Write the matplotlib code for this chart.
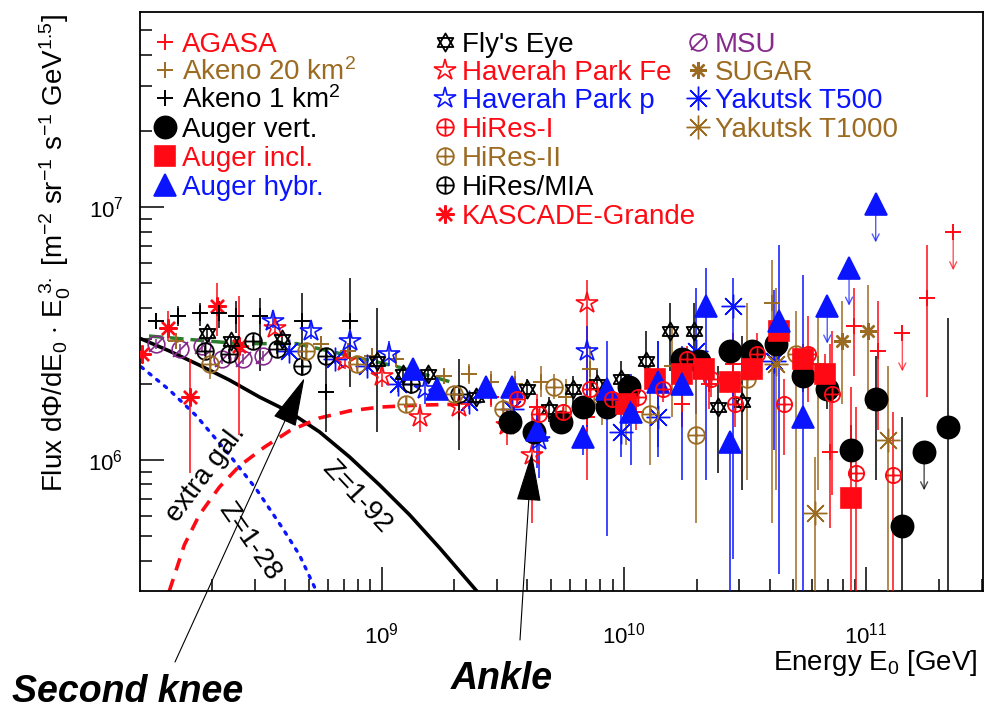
import numpy as np
import matplotlib
matplotlib.use("Agg")
import matplotlib.pyplot as plt
from matplotlib.path import Path
from matplotlib.lines import Line2D

plt.rcParams['font.family'] = ['Liberation Sans', 'DejaVu Sans']
plt.rcParams['mathtext.fontset'] = 'custom'
plt.rcParams['mathtext.rm'] = 'Liberation Sans'
plt.rcParams['mathtext.it'] = 'Liberation Sans:italic'
plt.rcParams['mathtext.bf'] = 'Liberation Sans:bold'

RED = '#ff0a14'
BROWN = '#9c6b22'
BLUE = '#0a14ff'
PURPLE = '#862a8c'
GREEN = '#2b7d2b'

# ---- data: log10(E/GeV), log10(flux*E^3) and log errors (up / down) ----
agasa_logE = [9.45, 9.64, 9.85, 10.05, 10.24, 10.35, 10.45, 10.85, 10.95, 11.05, 11.15, 11.25, 11.36]
agasa_logF = [6.25, 6.21, 6.17, 6.19, 6.22, 6.30, 6.38, 6.03, 6.53, 6.43, 6.50, 6.64, 6.90]
agasa_up = [0.04, 0.05, 0.06, 0.06, 0.08, 0.09, 0.12, 0.43, 0.15, 0.20, 0, 0.21, 0]
agasa_dn = [0.04, 0.05, 0.06, 0.07, 0.09, 0.10, 0.14, 0.30, 0.20, 0.31, 0, 0.39, 0]
agasa_lim = [10, 12]

akeno1_logE = [8.07, 8.16, 8.25, 8.33, 8.40, 8.50, 8.67, 8.77, 8.87]
akeno1_logF = [6.55, 6.57, 6.58, 6.58, 6.57, 6.57, 6.55, 6.27, 6.55]
akeno1_up = [0.03, 0.04, 0.04, 0.05, 0.06, 0.07, 0.11, 0.14, 0.17]
akeno1_dn = [0.03, 0.04, 0.05, 0.06, 0.07, 0.22, 0.22, 0.16, 0.26]

akeno20_logE = [8.15, 8.75, 8.86, 8.96, 9.06, 9.26, 9.36, 9.45, 9.55, 9.66, 9.76, 9.86, 10.01, 10.20, 10.61, 10.80]
akeno20_logF = [6.47, 6.46, 6.43, 6.41, 6.40, 6.33, 6.34, 6.31, 6.30, 6.31, 6.25, 6.36, 6.22, 6.37, 6.62, 6.38]
akeno20_up = [0.03, 0.03, 0.03, 0.03, 0.03, 0.03, 0.04, 0.04, 0.05, 0.06, 0.07, 0.09, 0.12, 0.15, 0.17, 0.20]
akeno20_dn = [0.03, 0.03, 0.03, 0.03, 0.03, 0.03, 0.04, 0.04, 0.05, 0.06, 0.08, 0.12, 0.16, 0.20, 0.87, 0.50]

augv_logE = [9.53, 9.63, 9.74, 9.83, 9.93, 10.02, 10.24, 10.31, 10.44, 10.53, 10.63, 10.74, 10.84, 10.94, 11.04, 11.15, 11.24, 11.34]
augv_logF = [6.15, 6.11, 6.15, 6.21, 6.21, 6.29, 6.40, 6.39, 6.43, 6.43, 6.46, 6.33, 6.28, 6.04, 6.24, 5.74, 6.03, 6.13]
augv_up = [0.02, 0.02, 0.02, 0.02, 0.02, 0.02, 0.03, 0.03, 0.03, 0.04, 0.05, 0.06, 0.08, 0.10, 0.17, 0.43, 0, 0.43]
augv_dn = [0.02, 0.02, 0.02, 0.02, 0.02, 0.02, 0.03, 0.03, 0.03, 0.04, 0.05, 0.06, 0.08, 0.12, 0.32, 1.0, 0, 1.0]
augv_lim = [16]

augi_logE = [10.01, 10.13, 10.24, 10.33, 10.44, 10.53, 10.64, 10.74, 10.83, 10.94]
augi_logF = [6.22, 6.32, 6.34, 6.36, 6.31, 6.36, 6.51, 6.40, 6.34, 5.85]
augi_up = [0.02, 0.02, 0.03, 0.03, 0.03, 0.04, 0.05, 0.06, 0.08, 0.44]
augi_dn = [0.02, 0.02, 0.03, 0.03, 0.04, 0.04, 0.06, 0.07, 0.10, 1.0]

augh_logE = [9.13, 9.23, 9.43, 9.54, 9.64, 9.83, 9.93, 10.03, 10.14, 10.24, 10.34, 10.44, 10.64, 10.74, 10.84, 10.93, 11.04]
augh_logF = [6.36, 6.28, 6.29, 6.29, 6.12, 6.09, 6.28, 6.19, 6.31, 6.30, 6.61, 6.07, 6.55, 6.17, 6.61, 6.76, 7.01]
augh_up = [0.02, 0.02, 0.03, 0.03, 0.10, 0.05, 0.19, 0.15, 0.16, 0.15, 0.15, 0.04, 0.30, 0.56, 0, 0, 0]
augh_dn = [0.02, 0.02, 0.03, 0.03, 0.15, 0.07, 0.58, 0.21, 0.30, 0.38, 0.69, 1.0, 1.0, 1.0, 0, 0, 0]
augh_lim = [14, 15, 16]

fly_logE = [8.28, 8.38, 8.59, 8.98, 9.09, 9.19, 9.39, 9.60, 9.69, 9.79, 9.89, 9.99, 10.09, 10.19, 10.29, 10.39, 10.49]
fly_logF = [6.50, 6.47, 6.48, 6.39, 6.34, 6.34, 6.25, 6.28, 6.20, 6.28, 6.30, 6.32, 6.39, 6.51, 6.51, 6.21, 6.23]
fly_up = [0.02, 0.02, 0.02, 0.21, 0.03, 0.03, 0.03, 0.04, 0.05, 0.05, 0.06, 0.07, 0.12, 0.11, 0.11, 0.16, 0.26]
fly_dn = [0.02, 0.02, 0.02, 0.28, 0.03, 0.03, 0.03, 0.04, 0.05, 0.06, 0.07, 0.08, 0.08, 0.16, 0.19, 0.26, 0.35]

hpfe_logE = [8.56, 8.85, 9.00, 9.16, 9.32, 9.52, 9.62, 9.85]
hpfe_logF = [6.52, 6.39, 6.33, 6.17, 6.21, 6.14, 6.02, 6.62]
hpfe_up = [0.03, 0.03, 0.04, 0.05, 0.04, 0.06, 0.15, 0.09]
hpfe_dn = [0.03, 0.03, 0.04, 0.06, 0.05, 0.08, 0.27, 0.70]

hpp_logE = [8.55, 8.71, 8.87, 9.03, 9.18, 9.65, 9.85]
hpp_logF = [6.55, 6.51, 6.47, 6.42, 6.28, 6.08, 6.43]
hpp_up = [0.03, 0.03, 0.04, 0.05, 0.06, 0.10, 0.10]
hpp_dn = [0.03, 0.03, 0.04, 0.05, 0.06, 0.15, 0.30]

hr1_logE = [9.56, 9.65, 9.75, 9.86, 9.95, 10.06, 10.16, 10.26, 10.36, 10.46, 10.55, 10.66, 10.76, 10.86, 10.96, 11.11]
hr1_logF = [6.24, 6.18, 6.19, 6.28, 6.24, 6.25, 6.28, 6.40, 6.32, 6.22, 6.42, 6.22, 6.42, 6.26, 5.95, 5.94]
hr1_up = [0.02, 0.02, 0.02, 0.03, 0.03, 0.03, 0.04, 0.05, 0.06, 0.07, 0.08, 0.10, 0.15, 0.25, 0.26, 0.25]
hr1_dn = [0.02, 0.02, 0.02, 0.03, 0.03, 0.04, 0.05, 0.06, 0.07, 0.09, 0.10, 0.20, 0.19, 0.40, 1.0, 1.0]

hr2_logE = [8.29, 8.69, 8.90, 9.10, 9.30, 9.50, 9.71, 9.91, 10.11, 10.30, 10.51, 10.71]
hr2_logF = [6.38, 6.43, 6.38, 6.22, 6.26, 6.20, 6.29, 6.24, 6.18, 6.10, 6.32, 6.42]
hr2_up = [0.06, 0.03, 0.03, 0.03, 0.03, 0.04, 0.05, 0.08, 0.20, 0.27, 0.30, 0.17]
hr2_dn = [0.06, 0.03, 0.03, 0.03, 0.03, 0.04, 0.05, 0.10, 0.20, 0.35, 0.40, 1.0]

mia_logE = [8.27, 8.37, 8.47, 8.57, 8.67, 8.77, 9.12, 9.32]
mia_logF = [6.43, 6.42, 6.47, 6.44, 6.37, 6.41, 6.30, 6.26]
mia_up = [0.02, 0.02, 0.02, 0.02, 0.03, 0.03, 0.04, 0.14]
mia_dn = [0.02, 0.02, 0.02, 0.02, 0.03, 0.03, 0.04, 0.22]

kg_logE = [8.01, 8.12, 8.21, 8.32, 8.41]
kg_logF = [6.42, 6.52, 6.25, 6.61, 6.45]
kg_up = [0.03, 0.07, 0.15, 0.09, 0.20]
kg_dn = [0.03, 0.05, 0.30, 0.12, 0.35]

msu_logE = [8.07, 8.17, 8.26, 8.34, 8.43, 8.51]
msu_logF = [6.46, 6.44, 6.45, 6.40, 6.40, 6.41]
msu_up = [0.02, 0.02, 0.02, 0.02, 0.02, 0.02]
msu_dn = [0.02, 0.02, 0.02, 0.02, 0.02, 0.02]

sugar_logE = [10.90, 11.01]
sugar_logF = [6.47, 6.51]
sugar_up = [0.16, 0.18]
sugar_dn = [0.25, 0.31]

t500_logE = [8.62, 8.81, 8.94, 9.07, 9.36, 9.54, 9.99, 10.14, 10.30, 10.45, 10.62]
t500_logF = [6.43, 6.40, 6.37, 6.30, 6.23, 6.20, 6.11, 6.17, 6.43, 6.61, 6.39]
t500_up = [0.02, 0.02, 0.02, 0.03, 0.03, 0.04, 0.08, 0.30, 0.25, 0.11, 0.28]
t500_dn = [0.02, 0.02, 0.02, 0.03, 0.03, 0.04, 0.10, 0.12, 0.25, 1.0, 0.35]

t1000_logE = [10.63, 10.79, 11.09]
t1000_logF = [6.38, 5.79, 6.08]
t1000_up = [0.30, 0.22, 0.29]
t1000_dn = [0.50, 1.0, 1.0]

# model curves
z92_logE = [8.000, 8.124, 8.248, 8.372, 8.496, 8.620, 8.744, 8.868, 8.992, 9.116, 9.240, 9.393]
z92_logF = [6.482, 6.431, 6.375, 6.316, 6.249, 6.190, 6.111, 6.012, 5.901, 5.783, 5.652, 5.482]
egal_logE = [8.124, 8.186, 8.248, 8.331, 8.413, 8.517, 8.620, 8.744, 8.868, 8.992, 9.157, 9.364]
egal_logF = [5.482, 5.664, 5.783, 5.893, 5.976, 6.051, 6.115, 6.166, 6.194, 6.209, 6.217, 6.221]
z28_logE = [8.008, 8.124, 8.236, 8.372, 8.483, 8.591, 8.661, 8.731]
z28_logF = [6.368, 6.277, 6.174, 6.020, 5.885, 5.731, 5.625, 5.482]
fit_logE = [8.04, 8.41, 8.65, 9.06, 9.28]
fit_logF = [6.49, 6.46, 6.46, 6.37, 6.31]

# ---- custom ROOT-like markers ----
a1 = np.deg2rad([90, 210, 330, 90])
a2 = np.deg2rad([270, 30, 150, 270])
hexagram = Path.make_compound_path(
    Path(np.column_stack([np.cos(a1), np.sin(a1)]), closed=True),
    Path(np.column_stack([np.cos(a2), np.sin(a2)]), closed=True))
oplus = Path.make_compound_path(Path.unit_circle(),
                                Path([[-1, 0], [1, 0]]), Path([[0, -1], [0, 1]]))
oslash = Path.make_compound_path(Path.unit_circle(), Path([[-0.9, -0.9], [0.9, 0.9]]))
aster = (8, 2, 0)

W, H = 986, 714
fig = plt.figure(figsize=(W / 100, H / 100), dpi=100)
ax = fig.add_axes([140 / W, 1 - 591 / H, 843 / W, 579 / H])
ax.set_xscale('log')
ax.set_yscale('log')
ax.set_xlim(10 ** 8.003, 10 ** 11.483)
ax.set_ylim(10 ** 5.482, 10 ** 7.771)

# curves
ax.plot(10 ** np.array(fit_logE), 10 ** np.array(fit_logF), color=GREEN, lw=2.5, ls=(0, (4, 2)), zorder=2)
ax.plot(10 ** np.array(z92_logE), 10 ** np.array(z92_logF), color='black', lw=2.6, zorder=2)
ax.plot(10 ** np.array(egal_logE), 10 ** np.array(egal_logF), color=RED, lw=2.6, ls=(0, (3.5, 2.5)), zorder=2)
ax.plot(10 ** np.array(z28_logE), 10 ** np.array(z28_logF), color=BLUE, lw=2.4, ls=(0, (0.8, 2.2)),
        dash_capstyle='round', zorder=2)


def draw(logE, logF, up, dn, color, marker, ms, mew=1.2, filled=False, lims=()):
    E = 10 ** np.array(logE)
    F = 10 ** np.array(logF)
    up = np.array(up)
    dn = np.array(dn)
    ax.errorbar(E, F, yerr=[F - F * 10 ** -dn, F * 10 ** up - F], fmt='none',
                ecolor=color, elinewidth=1.1, zorder=3)
    ax.plot(E, F, ls='none', marker=marker, ms=ms, mec=color,
            mfc=color if filled else 'none', mew=mew, zorder=4)
    for i in lims:
        ax.annotate('', xy=(E[i], F[i] * 10 ** -0.15), xytext=(E[i], F[i]),
                    arrowprops=dict(arrowstyle='->,head_length=0.5,head_width=0.25',
                                    color=color, lw=1.0, alpha=0.7, shrinkA=0, shrinkB=0),
                    zorder=3)


draw(msu_logE, msu_logF, msu_up, msu_dn, PURPLE, oslash, 12)
draw(kg_logE, kg_logF, kg_up, kg_dn, RED, aster, 13, mew=1.7)
draw(akeno1_logE, akeno1_logF, akeno1_up, akeno1_dn, 'black', '+', 11, mew=1.4)
draw(akeno20_logE, akeno20_logF, akeno20_up, akeno20_dn, BROWN, '+', 11, mew=1.4)
draw(agasa_logE, agasa_logF, agasa_up, agasa_dn, RED, '+', 11, mew=1.4, lims=agasa_lim)
draw(t500_logE, t500_logF, t500_up, t500_dn, BLUE, aster, 17, mew=1.0)
draw(t1000_logE, t1000_logF, t1000_up, t1000_dn, BROWN, aster, 17, mew=1.0)
draw(sugar_logE, sugar_logF, sugar_up, sugar_dn, BROWN, aster, 12, mew=1.7)
draw(hpfe_logE, hpfe_logF, hpfe_up, hpfe_dn, RED, '*', 16, mew=1.2)
draw(hpp_logE, hpp_logF, hpp_up, hpp_dn, BLUE, '*', 16, mew=1.2)
draw(fly_logE, fly_logF, fly_up, fly_dn, 'black', hexagram, 13, mew=1.3)
draw(mia_logE, mia_logF, mia_up, mia_dn, 'black', oplus, 12, mew=1.3)
draw(hr2_logE, hr2_logF, hr2_up, hr2_dn, BROWN, oplus, 12, mew=1.3)
draw(augv_logE, augv_logF, augv_up, augv_dn, 'black', 'o', 16, filled=True, lims=augv_lim)
draw(augi_logE, augi_logF, augi_up, augi_dn, RED, 's', 14, filled=True)
draw(augh_logE, augh_logF, augh_up, augh_dn, BLUE, '^', 16, filled=True, lims=augh_lim)
draw(hr1_logE, hr1_logF, hr1_up, hr1_dn, RED, oplus, 11, mew=1.3)

# axes style (ROOT-like)
for s in ax.spines.values():
    s.set_linewidth(1.3)
ax.tick_params(which='major', direction='in', length=17, width=1.1, top=False, right=False,
               labelsize=16, pad=12)
ax.tick_params(which='minor', direction='in', length=8.5, width=1.1, top=False, right=False)
ax.tick_params(axis='x', which='major', pad=23)
ax.xaxis.set_minor_formatter(matplotlib.ticker.NullFormatter())
ax.yaxis.set_minor_formatter(matplotlib.ticker.NullFormatter())

# model labels
ax.text(10 ** 8.273, 10 ** 5.945, 'extra gal.', rotation=53, ha='center', va='center', fontsize=20)
ax.text(10 ** 8.455, 10 ** 5.68, 'Z=1-28', rotation=-55, ha='center', va='center', fontsize=20)
ax.text(10 ** 8.897, 10 ** 5.854, 'Z=1-92', rotation=-47, ha='center', va='center', fontsize=20)

# axis titles
fig.text(55 / W, 1 - 14 / H,
         r'Flux d$\Phi$/dE$_0$ $\cdot$ E$_0^{\ 3.}$ [m$^{-2}$ sr$^{-1}$ s$^{-1}$ GeV$^{1.5}$]',
         rotation=90, ha='center', va='top', fontsize=20)
fig.text(978 / W, 1 - 670 / H, r'Energy E$_0$ [GeV]', ha='right', va='baseline', fontsize=20)

# annotations
ax.annotate('', xy=(10 ** 8.682, 10 ** 6.324), xytext=(175, H - 662), textcoords='figure pixels',
            arrowprops=dict(arrowstyle='-|>,head_length=1.6,head_width=0.4', mutation_scale=20,
                            color='black', lw=0.8, shrinkA=0, shrinkB=0), annotation_clip=False, zorder=6)
ax.annotate('', xy=(10 ** 9.62, 10 ** 6.028), xytext=(520, H - 640), textcoords='figure pixels',
            arrowprops=dict(arrowstyle='-|>,head_length=1.6,head_width=0.4', mutation_scale=20,
                            color='black', lw=0.8, shrinkA=0, shrinkB=0), annotation_clip=False, zorder=6)
fig.text(12 / W, 1 - 702 / H, 'Second knee', fontsize=27, fontweight='bold', fontstyle='italic',
         ha='left', va='baseline')
fig.text(502 / W, 1 - 689 / H, 'Ankle', fontsize=27, fontweight='bold', fontstyle='italic',
         ha='center', va='baseline')


# legend
def leg(px, py, label, color, marker, ms, mew=1.2, filled=False):
    fig.add_artist(Line2D([px / W], [1 - py / H], transform=fig.transFigure, ls='none',
                          marker=marker, ms=ms, mec=color, mfc=color if filled else 'none', mew=mew))
    fig.text((px + 17) / W, 1 - (py + 10) / H, label, color=color, fontsize=20, va='baseline')


leg(165, 42, 'AGASA', RED, '+', 11, 1.4)
leg(165, 70, 'Akeno 20 km$^2$', BROWN, '+', 11, 1.4)
leg(165, 98, 'Akeno 1 km$^2$', 'black', '+', 11, 1.4)
leg(165, 127, 'Auger vert.', 'black', 'o', 16, filled=True)
leg(165, 156, 'Auger incl.', RED, 's', 14, filled=True)
leg(165, 185, 'Auger hybr.', BLUE, '^', 16, filled=True)
leg(445, 42, "Fly's Eye", 'black', hexagram, 13, 1.3)
leg(445, 70, 'Haverah Park Fe', RED, '*', 16)
leg(445, 98, 'Haverah Park p', BLUE, '*', 16)
leg(445, 127, 'HiRes-I', RED, oplus, 12, 1.3)
leg(445, 156, 'HiRes-II', BROWN, oplus, 12, 1.3)
leg(445, 185, 'HiRes/MIA', 'black', oplus, 12, 1.3)
leg(445, 214, 'KASCADE-Grande', RED, aster, 13, 1.7)
leg(698, 42, 'MSU', PURPLE, oslash, 12, 1.3)
leg(698, 70, 'SUGAR', BROWN, aster, 12, 1.7)
leg(698, 98, 'Yakutsk T500', BLUE, aster, 17, 1.0)
leg(698, 127, 'Yakutsk T1000', BROWN, aster, 17, 1.0)

fig.savefig('out.png', dpi=100)
